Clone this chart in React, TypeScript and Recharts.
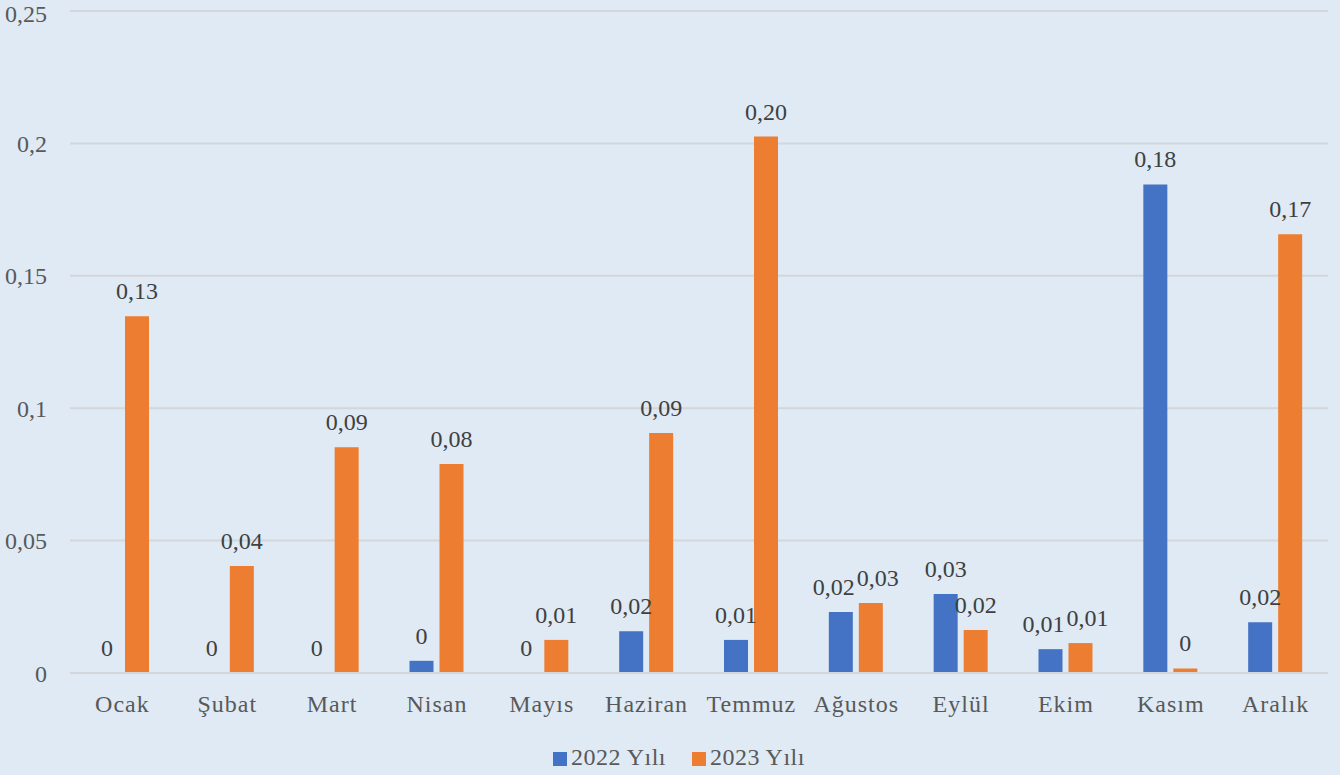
import React from "react";
import { BarChart, Bar, XAxis, YAxis, CartesianGrid, Legend, LabelList } from "recharts";

const months = ["Ocak", "Şubat", "Mart", "Nisan", "Mayıs", "Haziran", "Temmuz", "Ağustos", "Eylül", "Ekim", "Kasım", "Aralık"];
const values2022 = [0, 0, 0, 0.0046, 0, 0.0158, 0.0125, 0.023, 0.0298, 0.009, 0.1845, 0.0192];
const values2023 = [0.1347, 0.0404, 0.0853, 0.0789, 0.0125, 0.0906, 0.2026, 0.0264, 0.0162, 0.0113, 0.0017, 0.1657];
const yTicks = [0, 0.05, 0.1, 0.15, 0.2, 0.25];

const data = months.map((m, i) => ({ month: m, y2022: values2022[i], y2023: values2023[i] }));

const FONT = "'Liberation Serif', serif";
const TEXT = "#595959";
const LABEL = "#404040";

const fmtTick = (v: number) => String(v).replace(".", ",");
const fmtLabel = (v: number) => {
  const s = Number(v).toFixed(2);
  if (Number(s) === 0) return "0";
  return s.replace(".", ",");
};

const minSize = (v: number) => (v === 0 ? 0.01 : 0);

// label renderer that nudges paired labels apart when they would collide
const makeLabel = (own: number[], other: number[], dir: number) => (props: any) => {
  const { x, y, width, index, value } = props;
  const a = own[index];
  const b = other[index];
  const text = fmtLabel(value);
  const bothWide = fmtLabel(a) !== "0" && fmtLabel(b) !== "0";
  const shift = bothWide && Math.abs(a - b) < 0.01 ? 7 * dir : 0;
  return (
    <text
      x={Number(x) + Number(width) / 2 + shift}
      y={Number(y) - 17}
      textAnchor="middle"
      fill={LABEL}
      fontSize={24}
      fontFamily={FONT}
    >
      {text}
    </text>
  );
};

export default function App() {
  return (
    <div style={{ position: "fixed", left: 0, top: 0, width: 1340, height: 775, background: "#DFEAF5" }}>
      <BarChart
        width={1340}
        height={775}
        data={data}
        margin={{ top: 11, right: 12, left: 0, bottom: 5 }}
        barSize={24}
        barGap={6}
      >
        <CartesianGrid vertical={false} stroke="#D4D6D9" strokeWidth={2} />
        <XAxis
          dataKey="month"
          axisLine={{ stroke: "#D4D6D9", strokeWidth: 2 }}
          tickLine={false}
          tickSize={0}
          tickMargin={22}
          height={62}
          interval={0}
          tick={{ fill: TEXT, fontSize: 24, fontFamily: FONT, letterSpacing: 1 }}
        />
        <YAxis
          domain={[0, 0.25]}
          ticks={yTicks}
          width={70}
          axisLine={false}
          tickLine={false}
          tickSize={0}
          tickMargin={23}
          tickFormatter={fmtTick}
          tick={{ fill: TEXT, fontSize: 24, fontFamily: FONT }}
        />
        <Legend
          verticalAlign="bottom"
          height={35}
          iconType="square"
          iconSize={14}
          wrapperStyle={{ fontFamily: FONT, fontSize: 24, color: TEXT, top: 744, bottom: "auto", paddingLeft: 40, boxSizing: "border-box" }}
          formatter={(value: string, entry: any, index: number) => (
            <span style={{ color: TEXT, marginRight: index === 0 ? 16 : 0, letterSpacing: 0.5 }}>{value}</span>
          )}
        />
        <Bar dataKey="y2022" name="2022 Yılı" fill="#4472C4" minPointSize={minSize} isAnimationActive={false}>
          <LabelList dataKey="y2022" content={makeLabel(values2022, values2023, -1)} />
        </Bar>
        <Bar dataKey="y2023" name="2023 Yılı" fill="#ED7D31" minPointSize={minSize} isAnimationActive={false}>
          <LabelList dataKey="y2023" content={makeLabel(values2023, values2022, 1)} />
        </Bar>
      </BarChart>
    </div>
  );
}
